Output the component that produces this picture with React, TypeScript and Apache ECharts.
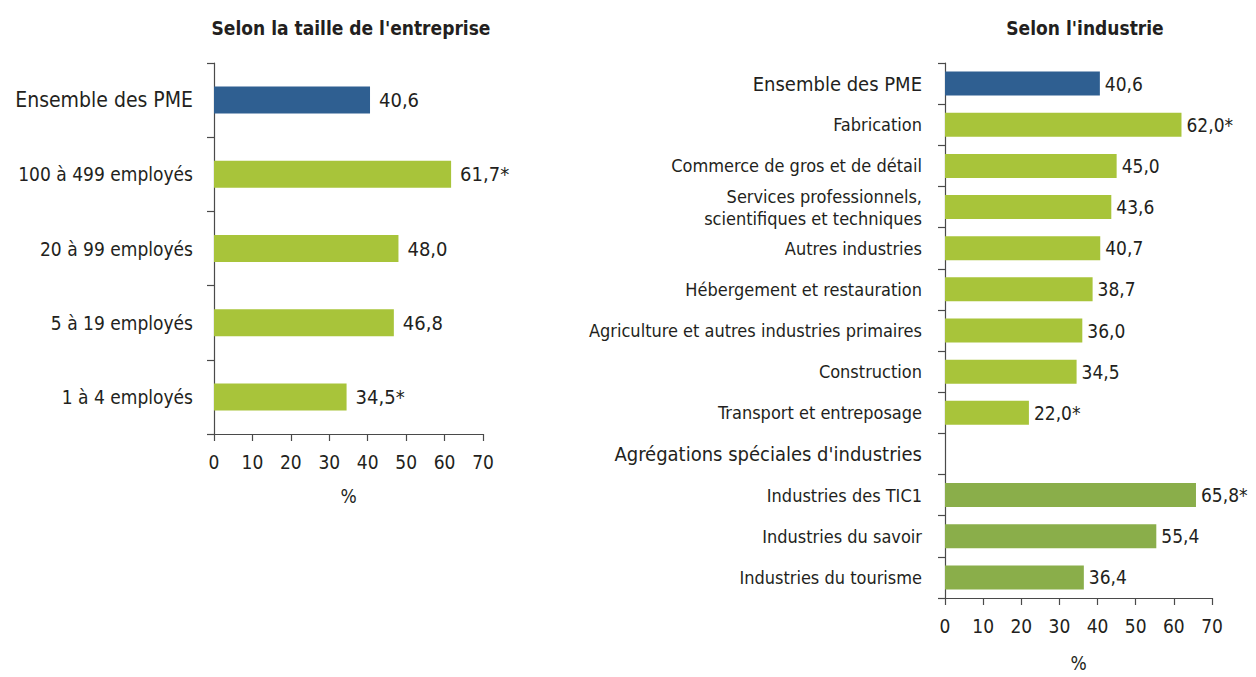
import React, { useEffect, useRef } from "react";
import * as echarts from "echarts";

const sizeCategories = ["Ensemble des PME", "100 à 499 employés", "20 à 99 employés", "5 à 19 employés", "1 à 4 employés"];
const sizeValues = [40.6, 61.7, 48.0, 46.8, 34.5];
const sizeStars = [false, true, false, false, true];

const indCategories = [
  "Ensemble des PME",
  "Fabrication",
  "Commerce de gros et de détail",
  "Services professionnels,\nscientifiques et techniques",
  "Autres industries",
  "Hébergement et restauration",
  "Agriculture et autres industries primaires",
  "Construction",
  "Transport et entreposage",
  "Agrégations spéciales d'industries",
  "Industries des TIC1",
  "Industries du savoir",
  "Industries du tourisme",
];
const indValues = [40.6, 62.0, 45.0, 43.6, 40.7, 38.7, 36.0, 34.5, 22.0, null, 65.8, 55.4, 36.4];
const indStars = [false, true, false, false, false, false, false, false, true, false, true, false, false];
const indGroup = ["total", "ind", "ind", "ind", "ind", "ind", "ind", "ind", "ind", "head", "special", "special", "special"];

const xTicks = [0, 70, 10];

const FONT = "'DejaVu Sans Condensed', 'Liberation Sans Narrow', sans-serif";
const BLUE = "#2f5f91";
const GREEN = "#a8c43a";
const DARKGREEN = "#8aae4a";
const TEXT = "#231f20";
const AXIS = "#4a4a4a";

const fmt = (v: number, star: boolean) => v.toFixed(1).replace(".", ",") + (star ? "*" : "");

export default function App() {
  const ref = useRef<HTMLDivElement>(null);
  useEffect(() => {
    const chart = echarts.init(ref.current!, null, { renderer: "svg" });
    const xAxisBase = (gridIndex: number) => ({
      type: "value",
      gridIndex,
      min: xTicks[0],
      max: xTicks[1],
      interval: xTicks[2],
      name: "%",
      nameLocation: "middle",
      nameGap: 52,
      nameTextStyle: { fontFamily: FONT, fontSize: 19, color: TEXT },
      axisLine: { show: true, lineStyle: { color: AXIS, width: 1.2 } },
      axisTick: { show: true, length: 7, lineStyle: { color: AXIS, width: 1.2 } },
      axisLabel: { fontFamily: FONT, fontSize: 19, color: TEXT, margin: 18 },
      splitLine: { show: false },
    });
    const option: any = {
      animation: false,
      textStyle: { fontFamily: FONT },
      title: [
        {
          text: "Selon la taille de l'entreprise",
          left: 346,
          top: 13,
          textAlign: "center",
          textStyle: { fontFamily: FONT, fontSize: 19, fontWeight: "bold", color: TEXT },
        },
        {
          text: "Selon l'industrie",
          left: 1080,
          top: 13,
          textAlign: "center",
          textStyle: { fontFamily: FONT, fontSize: 19, fontWeight: "bold", color: TEXT },
        },
      ],
      grid: [
        { left: 214, top: 63, width: 269, height: 371 },
        { left: 945, top: 63, width: 267, height: 547 },
      ],
      xAxis: [xAxisBase(0), { ...xAxisBase(1), nameGap: 55 }],
      yAxis: [
        {
          type: "category",
          gridIndex: 0,
          inverse: true,
          data: sizeCategories,
          axisLine: { show: true, lineStyle: { color: AXIS, width: 1.2 } },
          axisTick: { show: true, length: 7, lineStyle: { color: AXIS, width: 1.2 } },
          axisLabel: {
            fontFamily: FONT,
            fontSize: 19,
            color: TEXT,
            margin: 21,
            formatter: (v: string, i: number) => (i === 0 ? "{big|" + v + "}" : v),
            rich: { big: { fontFamily: FONT, fontSize: 21, color: TEXT } },
          },
        },
        {
          type: "category",
          gridIndex: 1,
          inverse: true,
          data: indCategories,
          axisLine: { show: true, lineStyle: { color: AXIS, width: 1.2 } },
          axisTick: { show: true, length: 7, lineStyle: { color: AXIS, width: 1.2 } },
          axisLabel: {
            fontFamily: FONT,
            fontSize: 18,
            lineHeight: 22,
            color: TEXT,
            margin: 23,
            formatter: (v: string, i: number) =>
              indGroup[i] === "total" || indGroup[i] === "head" ? "{big|" + v + "}" : v,
            rich: { big: { fontFamily: FONT, fontSize: 20, color: TEXT } },
          },
        },
      ],
      series: [
        {
          type: "bar",
          xAxisIndex: 0,
          yAxisIndex: 0,
          barWidth: 27,
          data: sizeValues.map((v, i) => ({
            value: v,
            itemStyle: { color: i === 0 ? BLUE : GREEN },
          })),
          label: {
            show: true,
            position: "right",
            distance: 9,
            fontFamily: FONT,
            fontSize: 20,
            color: TEXT,
            formatter: (p: any) => fmt(p.value, sizeStars[p.dataIndex]),
          },
        },
        {
          type: "bar",
          xAxisIndex: 1,
          yAxisIndex: 1,
          barWidth: 24,
          data: indValues.map((v, i) => ({
            value: v,
            itemStyle: { color: indGroup[i] === "total" ? BLUE : indGroup[i] === "special" ? DARKGREEN : GREEN },
          })),
          label: {
            show: true,
            position: "right",
            distance: 5,
            fontFamily: FONT,
            fontSize: 19,
            color: TEXT,
            formatter: (p: any) => (p.value == null ? "" : fmt(p.value, indStars[p.dataIndex])),
          },
        },
      ],
    };
    chart.setOption(option);
    return () => chart.dispose();
  }, []);
  return <div ref={ref} style={{ position: "absolute", left: 0, top: 0, width: 1256, height: 677 }} />;
}
